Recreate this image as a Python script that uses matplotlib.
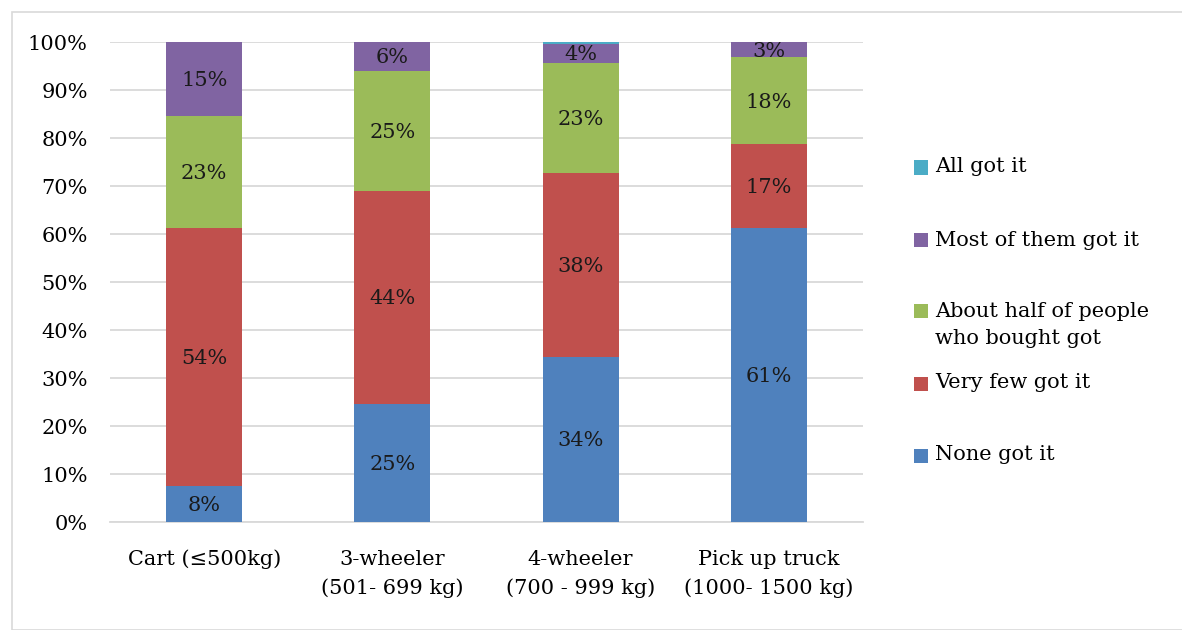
import matplotlib.pyplot as plt
import matplotlib.patches as mpatches
import numpy as np

### Data (percent of respondents)
categories = ["Cart (\u2264500kg)", "3-wheeler\n(501- 699 kg)",
              "4-wheeler\n(700 - 999 kg)", "Pick up truck\n(1000- 1500 kg)"]
none_got = [7.6, 24.6, 34.4, 61.3]
very_few = [53.7, 44.4, 38.3, 17.4]
about_half = [23.3, 25.0, 22.9, 18.1]
most_got = [15.4, 6.0, 4.0, 3.2]
all_got = [0.0, 0.0, 0.4, 0.0]

series = [
    ("None got it", none_got, "#4F81BD"),
    ("Very few got it", very_few, "#C0504D"),
    ("About half of people\nwho bought got", about_half, "#9BBB59"),
    ("Most of them got it", most_got, "#8064A2"),
    ("All got it", all_got, "#4BACC6"),
]

plt.rcParams['font.family'] = ['DejaVu Serif']
fs = 15
W, H = 1182, 630

fig = plt.figure(figsize=(W/100, H/100), dpi=100)
ax = fig.add_axes([110/W, 1 - 522/H, 753/W, 480/H])

### Stacked bars with value labels
x = np.arange(len(categories))
bottom = np.zeros(len(categories))
for name, vals, col in series:
    vals = np.array(vals)
    ax.bar(x, vals, 0.405, bottom=bottom, color=col, zorder=3)
    for xi, b, v in zip(x, bottom, vals):
        if v >= 1:
            ax.text(xi, b + v/2 - 0.3, f"{round(v):.0f}%", ha='center', va='center',
                    fontsize=fs, color='#1a1a1a', zorder=4)
    bottom += vals

### Decorate
ax.set_xlim(-0.5, 3.5)
ax.set_ylim(0, 100)
ax.set_yticks(np.arange(0, 101, 10))
ax.set_yticklabels([f"{t}%" for t in range(0, 101, 10)], fontsize=fs)
ax.set_xticks(x)
ax.set_xticklabels(categories, fontsize=fs, linespacing=1.6)
ax.grid(axis='y', color='#d9d9d9', linewidth=1.3, zorder=0)
for s in ['top', 'right', 'left']:
    ax.spines[s].set_visible(False)
ax.spines['bottom'].set_color('#d9d9d9')
ax.spines['bottom'].set_linewidth(1.3)
ax.tick_params(axis='y', length=0, pad=16)
ax.tick_params(axis='x', length=0, pad=20)

### Legend (top entry first), placed like the original's right-hand key
legend_y = [455, 383, 325, 240, 167]
for (name, vals, col), yc in zip(series, legend_y):
    first_line_y = yc - 14.5 if "\n" in name else yc
    fig.patches.append(mpatches.Rectangle((914/W, 1 - (first_line_y + 7.5)/H),
                       14/W, 14/H, transform=fig.transFigure,
                       facecolor=col, edgecolor='none'))
    fig.text(935/W, 1 - yc/H, name, ha='left', va='center', fontsize=fs,
             linespacing=1.55)

### Chart border
fig.patches.append(mpatches.Rectangle((12/W, 0), 1.0, 1 - 12/H,
                   transform=fig.transFigure, fill=False,
                   edgecolor='#d9d9d9', linewidth=1.2))

fig.savefig("out.png", dpi=100)
